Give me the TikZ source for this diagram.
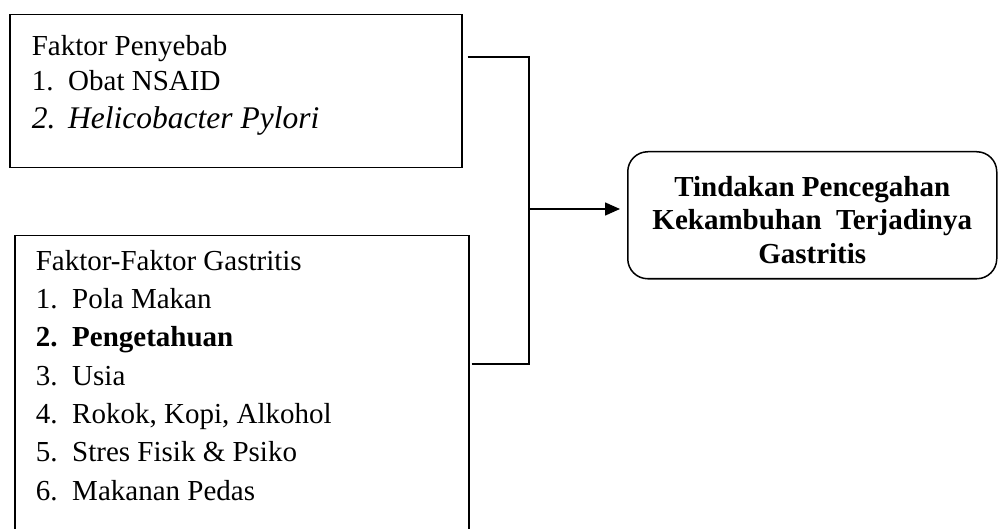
\documentclass[tikz,border=0pt]{standalone}
\usepackage{fontspec}
\setmainfont{Liberation Serif}
\usetikzlibrary{calc,arrows.meta}
\tikzset{
  listbox/.style={draw, line width=1.5pt, anchor=north west, inner xsep=22pt, inner ysep=21pt,
    font=\fontsize{29}{35}\selectfont},
  resultbox/.style={draw, line width=1.5pt, rounded corners=20pt, anchor=north west,
    minimum width=369pt, minimum height=127pt, align=center, inner sep=0pt,
    font=\fontsize{29}{33.5}\selectfont\bfseries},
  link/.style={line width=1.6pt},
  linkArrow/.style={line width=1.6pt, -{Triangle[length=15pt,width=13pt]}, shorten >=7pt},
}
\newcommand{\itm}[1]{\makebox[36.5pt][l]{#1}}

\begin{document}
\begin{tikzpicture}[x=1pt,y=-1pt]
        \clip (0,0) rectangle (998,529);

        % left boxes
        \node[listbox] (penyebab) at (9,14) {\parbox[t][111pt][t]{408pt}{%
          Faktor Penyebab\par
          \itm{1.}Obat NSAID\par
          \vspace{1pt}{\fontsize{31.5}{37}\selectfont\itshape \itm{2.}Helicobacter Pylori\par}}};
        \node[listbox, inner xsep=21pt, inner ysep=14.5pt] (faktor) at (14,235) {\parbox[t][281pt][t]{412pt}{%
          \baselineskip=38.3pt
          Faktor-Faktor Gastritis\par
          \itm{1.}Pola Makan\par
          {\bfseries\itm{2.}Pengetahuan\par}
          \itm{3.}Usia\par
          \itm{4.}Rokok, Kopi, Alkohol\par
          \itm{5.}Stres Fisik \& Psiko\par
          \itm{6.}Makanan Pedas\par}};

        % result box
        \node[resultbox] (tindakan) at (627,151) {\rule{0pt}{29.5pt}Tindakan Pencegahan\\ Kekambuhan~~Terjadinya\\ Gastritis};

        % connectors
        \coordinate (join) at (529,209);
        \draw[link] ($(penyebab.north east)+(5,43)$) -| (join);
        \draw[link] ($(faktor.north east)+(2,129)$) -| (join);
        \draw[linkArrow] (join) -- (join -| tindakan.west);
    \end{tikzpicture}
\end{document}
